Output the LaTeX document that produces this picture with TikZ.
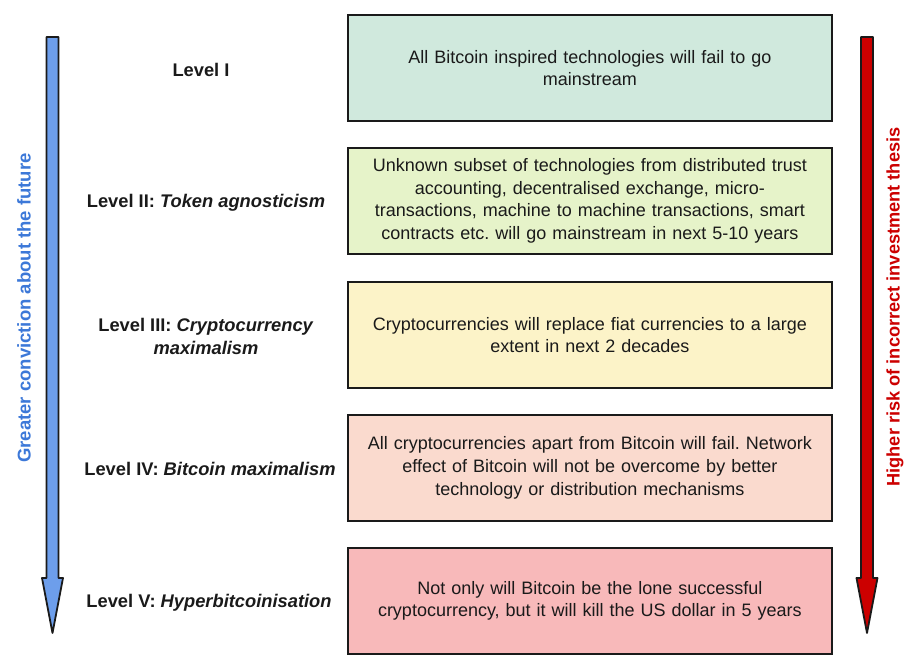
\documentclass[tikz,border=0pt]{standalone}
\usepackage{fontspec}
\setmainfont{Liberation Sans}
\frenchspacing
\definecolor{cA}{HTML}{D0E9DD}
\definecolor{cB}{HTML}{E6F3C9}
\definecolor{cC}{HTML}{FCF3C8}
\definecolor{cD}{HTML}{FADACE}
\definecolor{cE}{HTML}{F8B9BA}
\definecolor{blueA}{HTML}{6D9EEB}
\definecolor{blueT}{HTML}{3C78D8}
\definecolor{redA}{HTML}{CC0000}
\definecolor{txt}{HTML}{1A1A1A}
\begin{document}
\begin{tikzpicture}[x=1pt,y=-1pt,
  lvbox/.style={draw=txt,line width=1.8pt,minimum width=484pt,minimum height=106pt,anchor=north west,inner sep=0pt,
    text width=476pt,align=center,font=\fontsize{18}{22.6}\selectfont,text=txt},
  lvlabel/.style={align=center,font=\bfseries\fontsize{18.3}{23}\selectfont,text=txt},
  bigarrow/.style={draw=txt,line width=1.8pt,line join=round}]
\useasboundingbox (0,0) rectangle (919,669);
\node[lvbox,fill=cA] (b1) at (347,14) {All Bitcoin inspired technologies will fail to go\\mainstream};
\node[lvbox,fill=cB] (b2) at (347,147) {Unknown subset of technologies from distributed trust\\accounting, decentralised exchange, micro-\\transactions, machine to machine transactions, smart\\contracts etc. will go mainstream in next 5-10 years};
\node[lvbox,fill=cC] (b3) at (347,281) {Cryptocurrencies will replace fiat currencies to a large\\extent in next 2 decades};
\node[lvbox,fill=cD] (b4) at (347,414) {All cryptocurrencies apart from Bitcoin will fail. Network\\effect of Bitcoin will not be overcome by better\\technology or distribution mechanisms};
\node[lvbox,fill=cE] (b5) at (347,547) {Not only will Bitcoin be the lone successful\\cryptocurrency, but it will kill the US dollar in 5 years};

\node[lvlabel] (l1) at (201,70) {Level I};
\node[lvlabel] (l2) at (206,203) {Level II: \textit{Token agnosticism}};
\node[lvlabel] (l3) at (206,336) {Level III: \textit{Cryptocurrency}\\\textit{maximalism}};
\node[lvlabel] (l4) at (210,469) {Level IV: \textit{Bitcoin maximalism}};
\node[lvlabel] (l5) at (209,603) {Level V: \textit{Hyperbitcoinisation}};

\draw[bigarrow,fill=blueA] (46.5,37) -- (58.5,37) -- (58.5,578) -- (63,578) -- (52.5,633) -- (42,578) -- (46.5,578) -- cycle;
\draw[bigarrow,fill=redA] (861,37) -- (873,37) -- (873,578) -- (877.5,578) -- (867,633) -- (856.5,578) -- (861,578) -- cycle;

\node[rotate=90,text=blueT,font=\bfseries\fontsize{18.5}{20}\selectfont] (tl) at (24,308) {Greater conviction about the future};
\node[rotate=90,text=redA,font=\bfseries\fontsize{18.2}{20}\selectfont] (tr) at (895,307) {Higher risk of incorrect investment thesis};
\end{tikzpicture}
\end{document}
